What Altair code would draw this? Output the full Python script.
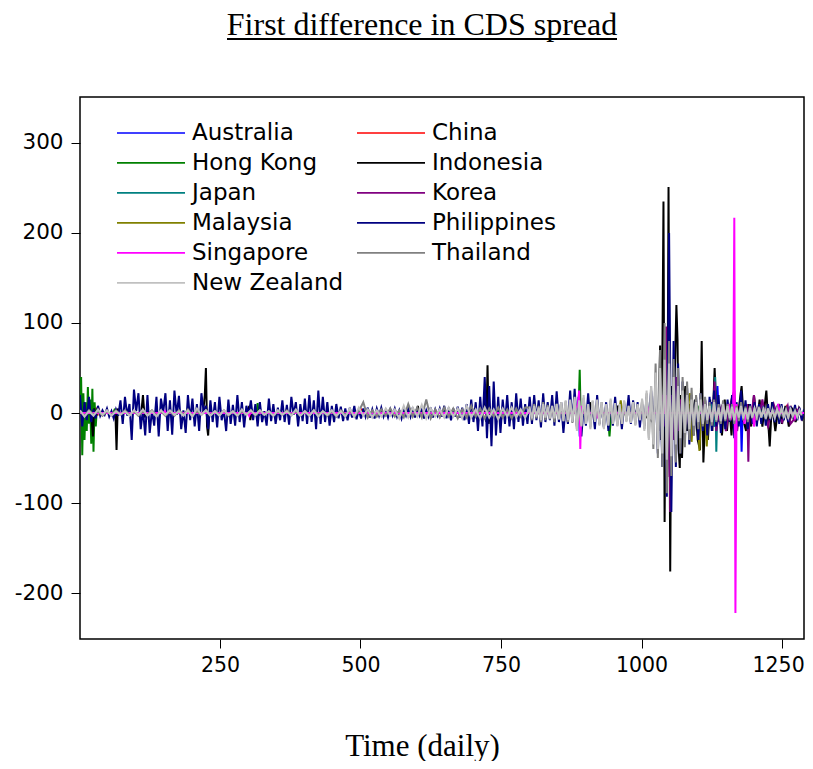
import altair as alt
import pandas as pd

TITLE = "First difference in CDS spread"
SERIES = ["Australia", "China", "Hong Kong", "Indonesia", "Japan", "Korea",
          "Malaysia", "Philippines", "Singapore", "Thailand", "New Zealand"]
COLORS = ["#0000FF", "#FF0000", "#008000", "#000000", "#008080", "#800080",
          "#808000", "#000080", "#FF00FF", "#808080", "#C0C0C0"]
X_TICKS = [250, 500, 750, 1000, 1250]
Y_TICKS = [-200, -100, 0, 100, 200, 300]

# ---- dense series: values every 4 (or 8) trading days ----
phil_start, phil_step = 1, 4
phil_vals = [
    20, -15, 12, -8, 18, -10, 4, -6, 8, -3,
    3, -2, 5, -4, 2, -6, 4, -3, 14, -12,
    18, -3, 10, -30, 26, 2, 22, -18, 4, -25,
    20, -22, 3, -14, 18, -26, 16, 1, 22, -20,
    14, -24, 25, -2, 19, -18, 3, -22, 20, -8,
    16, -15, 10, -20, 22, 1, 8, -18, 14, -10,
    12, -16, 18, -8, 3, -20, 15, -12, 9, -14,
    20, -10, 12, -16, 8, -2, 14, -8, 10, -15,
    12, -10, 2, -14, 16, -9, 10, -12, 6, -8,
    14, -10, 9, -13, 18, -2, 12, -15, 10, -9,
    16, -12, 20, -10, 14, -18, 25, -12, 18, -10,
    12, -14, 8, -10, 10, -6, 7, -9, 5, -8,
    6, -5, 8, -7, 4, -6, 5, -4, 6, -5,
    4, -6, 5, -3, 6, -4, 3, -5, 4, -3,
    5, -4, 3, -6, 4, -3, 5, -4, 6, -5,
    4, -3, 5, -6, 3, -4, 6, -5, 4, -3,
    5, -4, 8, -6, 6, -8, 5, -4, 7, -5,
    6, -8, 10, -12, 15, -10, 12, -20, 18, -15,
    40, -28, 30, -37, 35, -25, 18, -22, 15, -12,
    20, -15, 12, -18, 22, -10, 16, -14, 10, -12,
    18, -12, 20, -8, 14, -16, 22, -10, 12, -8,
    20, -14, 24, -10, 12, -22, 8, -12, 25, -10,
    27, -15, 10, -26, 8, -14, 22, -10, 6, -18,
    20, -12, 8, -16, 12, -20, 10, -14, 18, -10,
    6, -18, 10, -6, 20, -12, 14, -10, 12, -16,
    10, -14, 18, -10, 25, -20, 35, -45, 40, -60,
    60, -93, 200, -110, 80, -60, 55, -45, 35, -30,
    28, -35, 20, -25, 18, -30, 22, -20, 15, -25,
    18, -20, 25, -15, 20, -22, 12, -18, 15, -10,
    20, -28, 12, -15, 25, -10, 14, -18, 10, -12,
    12, -15, 10, -12, 8, -14, 10, -8, 12, -10,
    8, -12, 10, -8, 6, -10, 8, -6, 9, -8,
    6, -8, 4,
]

thai_a_start, thai_a_step = 1, 8
thai_a_vals = [
    2, -3, 3, -2, 2, -3, 2, -2, 3, -2,
    3, -2, 2, -3, 2, -2, 3, -3, 2, -3,
    2, -3, 3, -2, 4, -3, 2, -2, 3, -2,
    2, -2, 3, -3, 2, -3, 2, -2, 3, -3,
    3, -2, 2, -3, 2, -2, 3, -2, 2, -3,
    2, -3, 3, -2, 2, -3, 2, -4, 3, -2,
    3, -4, 2, 12, -5, 3, -4, 4, -3, 5,
    -4, 3, -5, 10, -4, 6, -5, 15, -6, 4,
    -5, 6, -4, 5, -6, 4, -5, 8, -4, 5,
    -6, 5, -4, 6, -5, 4, -6, 5, -4, 6,
]
thai_b_start, thai_b_step = 801, 4
thai_b_vals = [
    6, -8, 10, -6, 8, -10, 12, -8, 9, -7,
    8, -10, 10, -7, 12, -9, 13, -10, 14, -11,
    16, -18, 13, -14, 17, -12, 10, -16, 13, -9,
    14, -13, 12, -16, 9, -13, 14, -11, 10, -14,
    9, -12, 13, -9, 8, -10, 12, -13, 9, -8,
    14, -18, 22, -28, 30, -40, 55, -50, 70, -60,
    100, -89, 80, -70, 60, -55, 50, -45, 40, -38,
    35, -30, 28, -25, 20, -18, 22, -15, 18, -12,
    12, -14, 15, -10, 10, -12, 14, -9, 10, -8,
    10, -12, 8, -9, 12, -8, 7, -10, 8, -6,
    6, -8, 7, -5, 6, -7, 5, -6, 4, -5,
    5, -4, 6, -5, 4, -6, 5, -4, 3, -5,
    3, -3,
]

nz_a_start, nz_a_step = 1, 8
nz_a_vals = [
    3, -4, 2, -3, 4, -2, 3, -3, 2, -2,
    2, -3, 3, -2, 4, -3, 2, -4, 3, -2,
    3, -2, 2, -3, 3, -4, 5, -2, 3, -3,
    2, -3, 3, -2, 2, -3, 4, -2, 3, -2,
    3, -2, 2, -3, 3, -2, 2, -3, 4, -3,
    2, -3, 3, -4, 2, -2, 3, -3, 2, -4,
    5, -4, 6, -3, 4, -5, 3, -4, 5, -3,
    4, -6, 8, -5, 6, -4, 9, -6, 5, -4,
    4, -5, 6, -4, 5, -6, 8, -5, 4, -6,
    6, -5, 4, -7, 5, -4, 6, -5, 4, -5,
]
nz_b_start, nz_b_step = 801, 4
nz_b_vals = [
    5, -6, 8, -4, 6, -8, 10, -5, 7, -6,
    8, -6, 10, -7, 12, -9, 14, -8, 15, -10,
    18, -20, 14, -15, 20, -12, 10, -18, 14, -10,
    15, -14, 12, -18, 10, -14, 16, -12, 11, -15,
    10, -12, 14, -10, 8, -11, 12, -14, 10, -8,
    16, -20, 25, -30, 30, -35, 45, -40, 50, -45,
    59, -52, 55, -48, 40, -35, 30, -28, 25, -22,
    20, -18, 15, -14, 12, -10, 15, -12, 10, -8,
    8, -10, 12, -8, 6, -9, 10, -7, 8, -6,
    7, -8, 6, -5, 8, -6, 5, -7, 6, -5,
    5, -4, 6, -5, 4, -6, 5, -4, 3, -5,
    4, -3, 5, -4, 3, -5, 4, -3, 2, -4,
    3, -2,
]

# ---- sparse series: (day, value) read at the visible spikes ----
aus_days = [1, 10, 14, 18, 886, 888, 890, 892, 894, 1030, 1036, 1040, 1044, 1048, 1052,
            1056, 1060, 1120, 1125, 1130, 1135, 1138, 1142, 1174, 1176, 1178, 1180, 1184,
            1200, 1205, 1210, 1215, 1289]
aus_vals = [0, 3, -2, 0, 0, 18, -26, 5, 0, 0, 15, -20, 30, -40, 25,
            -15, 0, 0, 12, -15, 30, -10, 0, 0, 10, -43, 5, 0,
            0, -10, 8, 0, 0]

chn_days = [1, 28, 30, 32, 34, 36, 500, 502, 504, 1050, 1052, 1054, 1056, 1255, 1258,
            1262, 1266, 1270, 1275, 1280, 1289]
chn_vals = [0, 0, 6, -3, 5, 0, 0, 3, 0, 0, 15, -10, 0, 0, 6,
            -4, 5, -3, 4, 0, 0]

hk_days = [1, 3, 5, 7, 9, 11, 13, 15, 17, 19, 21, 23, 25, 27, 29, 31, 33, 60, 62, 64,
           315, 317, 319, 321, 886, 888, 890, 892, 894, 940, 943, 946, 1100, 1103, 1106,
           1128, 1130, 1133, 1136, 1160, 1162, 1164, 1289]
hk_vals = [0, 40, -47, 22, -30, 12, -20, 29, -12, 15, -34, 27, -43, 12, -15, 5, 0, 0, 3, 0,
           0, 11, -3, 0, 0, 5, 48, -12, 0, 0, -26, 0, 0, 8, 0,
           0, 12, -8, 0, 0, 6, 0, 0]

indo_days = [1, 20, 22, 24, 26, 28, 64, 66, 68, 70, 110, 113, 116, 118, 220, 223, 225,
             227, 229, 231, 300, 302, 304, 306, 600, 602, 604, 720, 722, 724, 726, 728,
             730, 905, 908, 911, 955, 958, 961, 1000, 1020, 1025, 1030, 1033, 1035, 1037,
             1039, 1041, 1043, 1046, 1048, 1051, 1053, 1056, 1059, 1062, 1064, 1066, 1068,
             1070, 1072, 1075, 1078, 1081, 1085, 1090, 1095, 1100, 1104, 1107, 1110, 1114,
             1118, 1122, 1126, 1130, 1134, 1138, 1143, 1148, 1152, 1156, 1160, 1163, 1170,
             1178, 1182, 1186, 1190, 1195, 1200, 1205, 1210, 1215, 1222, 1228, 1232, 1238,
             1244, 1250, 1256, 1262, 1268, 1274, 1280, 1286, 1289]
indo_vals = [0, 0, -10, -26, 5, 0, 0, -41, 5, 0, 0, 20, -5, 0, 0, 20, 50,
             -15, -25, 0, 0, 8, -8, 0, 0, 8, 0, 0, 20, -10, 53, -12,
             0, 0, 12, 0, 0, 8, 0, 0, -10, 15, -20, 75, -30, 60,
             235, -121, 40, -30, 251, -176, 30, -20, 40, 120, 81, -40, -61,
             20, -50, 10, 30, -20, 10, -10, 15, -30, -41, 80, -55, 10,
             -30, 15, -20, 50, -15, 10, -25, 15, -20, 10, -25, 5, -10,
             30, -10, -20, 10, -15, 20, -10, 15, -15, 25, -37, 12, -20,
             10, -12, 8, -15, 6, -10, 5, -6, 0]

jpn_days = [1, 1040, 1045, 1050, 1055, 1120, 1126, 1129, 1131, 1133, 1135, 1138,
            1200, 1210, 1215, 1220, 1289]
jpn_vals = [0, 0, 10, -12, 0, 0, 10, -15, 40, -43, 10, 0,
            0, 5, -4, 0, 0]

kor_days = [1, 880, 882, 884, 1030, 1038, 1042, 1044, 1046, 1049, 1051, 1054, 1058, 1062,
            1066, 1070, 1074, 1080, 1084, 1108, 1113, 1117, 1121, 1126, 1130, 1133, 1137,
            1145, 1150, 1155, 1160, 1165, 1170, 1174, 1186, 1188, 1190, 1192, 1196, 1200,
            1205, 1210, 1215, 1220, 1225, 1230, 1235, 1240, 1250, 1255, 1260, 1265, 1270,
            1275, 1280, 1285, 1289]
kor_vals = [0, 0, 4, 0, 0, 20, -15, 96, -71, 50, -110, 20, -30, 40,
            -20, 15, 0, -10, 0, 0, 15, -10, 0, -15, 35, -20, 0,
            10, -20, 0, 15, 25, -20, 0, 0, 10, -54, 5, 0, 20,
            -10, 0, 15, -5, -15, 0, 10, 0, -10, 0, 8, -12, -8,
            0, 5, -6, 0]

mys_days = [1, 960, 963, 966, 969, 982, 985, 988, 1080, 1083, 1086, 1089, 1092, 1100,
            1103, 1106, 1113, 1116, 1119, 1289]
mys_vals = [0, 0, 14, -5, 0, 0, 8, 0, 0, 15, 22, -32, 0, 0,
            -42, 0, 0, -37, 0, 0]

sgp_days = [1, 150, 152, 154, 300, 302, 304, 880, 884, 887, 889, 891, 893, 895, 920, 922,
            924, 1010, 1012, 1014, 1040, 1043, 1046, 1049, 1150, 1155, 1158, 1161, 1163,
            1165, 1167, 1169, 1171, 1180, 1183, 1186, 1198, 1200, 1203, 1240, 1243, 1246,
            1270, 1273, 1276, 1289]
sgp_vals = [0, 0, 2, 0, 0, -3, 0, 0, 5, 10, 25, -40, 8, 0, 0, -6,
            0, 0, 4, 0, 0, 20, -15, 0, 0, 10, -8, 0, 5,
            217, -222, 10, 0, 0, -12, 0, 0, -15, 0, 0, 10, 0,
            0, -6, 0, 0]


def dense(start, step, vals):
    return [start + step * i for i in range(len(vals))], vals


series_data = {
    "Australia": (aus_days, aus_vals),
    "China": (chn_days, chn_vals),
    "Hong Kong": (hk_days, hk_vals),
    "Indonesia": (indo_days, indo_vals),
    "Japan": (jpn_days, jpn_vals),
    "Korea": (kor_days, kor_vals),
    "Malaysia": (mys_days, mys_vals),
    "Philippines": dense(phil_start, phil_step, phil_vals),
    "Singapore": (sgp_days, sgp_vals),
}
ta_d, ta_v = dense(thai_a_start, thai_a_step, thai_a_vals)
tb_d, tb_v = dense(thai_b_start, thai_b_step, thai_b_vals)
series_data["Thailand"] = (ta_d + tb_d, ta_v + tb_v)
na_d, na_v = dense(nz_a_start, nz_a_step, nz_a_vals)
nb_d, nb_v = dense(nz_b_start, nz_b_step, nz_b_vals)
series_data["New Zealand"] = (na_d + nb_d, na_v + nb_v)

x_scale = alt.Scale(domain=[1, 1289], nice=False, zero=False)
y_scale = alt.Scale(domain=[-251, 351], nice=False, zero=False)
color_scale = alt.Scale(domain=SERIES, range=COLORS)

x_axis = alt.Axis(values=X_TICKS, title="Time (daily)",
                  titleFont="Liberation Serif", titleFontSize=31, titleFontWeight="normal",
                  titleColor="black", titleX=342, titleY=116, titleBaseline="alphabetic",
                  labelFontSize=20.5, labelPadding=7, tickSize=9, labelFlush=False,
                  labelOverlap=False, labelExpr="'' + datum.value",
                  labelOffset={"condition": {"test": "datum.value == 1250", "value": -4},
                               "value": 0})
y_axis = alt.Axis(values=Y_TICKS, title=None, labelFontSize=21.5,
                  labelPadding=8, tickSize=9, labelOverlap=False,
                  labelExpr="'' + datum.value")
legend = alt.Legend(title=None, orient="none", legendX=36, legendY=21, columns=2,
                    direction="horizontal",
                    symbolType="stroke", symbolSize=4624, symbolStrokeWidth=1.6,
                    clipHeight=29.8, rowPadding=0, columnPadding=12,
                    labelFont="DejaVu Sans", labelFontSize=23, labelColor="black",
                    labelOffset=6, labelLimit=400, padding=0)

layers = []
for name in SERIES:
    days, vals = series_data[name]
    n = min(len(days), len(vals))
    df = pd.DataFrame({"day": days[:n], "value": vals[:n], "series": name})
    layers.append(
        alt.Chart(df).mark_line(strokeWidth=2, clip=True).encode(
            x=alt.X("day:Q", scale=x_scale, axis=x_axis),
            y=alt.Y("value:Q", scale=y_scale, axis=y_axis),
            color=alt.Color("series:N", scale=color_scale, legend=legend),
        )
    )

one = pd.DataFrame({"k": [0]})
title_text = alt.Chart(one).mark_text(
    text=TITLE, font="Liberation Serif", fontSize=32, color="black",
    align="center", baseline="alphabetic").encode(
    x=alt.value(342), y=alt.value(-62))
underline = alt.Chart(one).mark_rule(color="black", strokeWidth=2).encode(
    x=alt.value(147), x2=alt.value(537), y=alt.value(-58))

chart = alt.layer(*layers, title_text, underline).properties(
    width=724, height=542,
    autosize=alt.AutoSizeParams(type="none"),
    padding={"left": 72, "top": 89, "right": 1, "bottom": 122},
).configure_view(stroke="black", strokeWidth=1.5).configure_axis(
    labelFont="DejaVu Sans", labelColor="black",
    tickColor="black", tickWidth=1, domain=False, grid=False,
)

chart.save("out.html", embed_options={"renderer": "svg", "actions": False})
